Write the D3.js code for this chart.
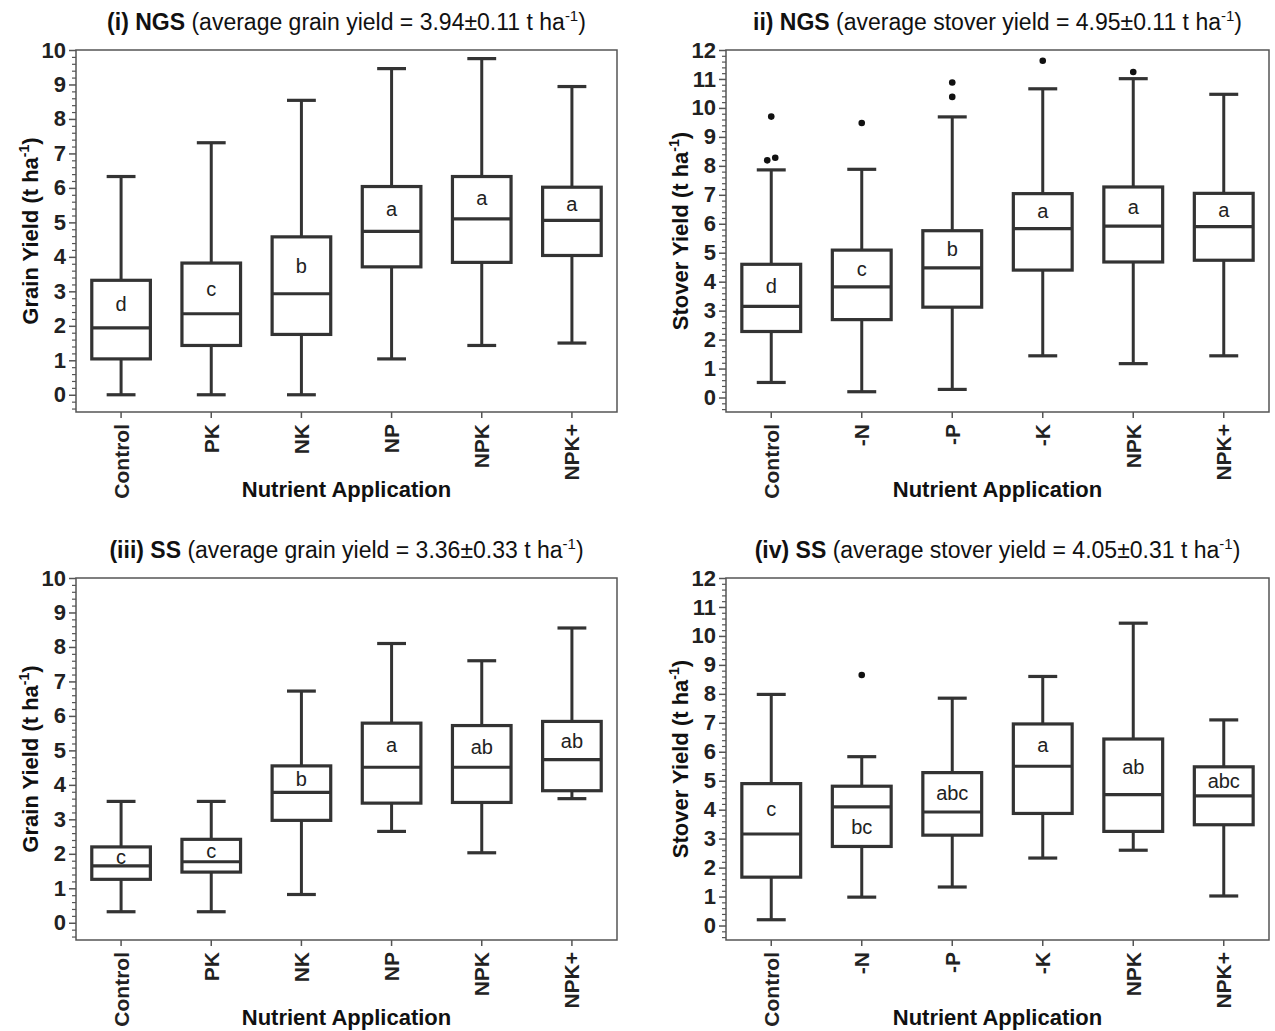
<!DOCTYPE html>
<html>
<head>
<meta charset="utf-8">
<script src="https://cdn.jsdelivr.net/npm/d3@7"></script>
<style>
  html, body { margin: 0; padding: 0; background: #fff; }
  svg { display: block; font-family: "Liberation Sans", Arial, sans-serif; }
</style>
</head>
<body>
<svg id="fig" width="1275" height="1031"></svg>
<script>
// Treatments
const grainCategories = ["Control", "PK", "NK", "NP", "NPK", "NPK+"];
const stoverCategories = ["Control", "-N", "-P", "-K", "NPK", "NPK+"];

// (i) NGS grain yield (t/ha): whisker ends, quartiles, medians, letters
const ngsGrainLower  = [0.00, 0.00, 0.00, 1.04, 1.43, 1.50];
const ngsGrainQ1     = [1.04, 1.43, 1.75, 3.71, 3.84, 4.04];
const ngsGrainMedian = [1.94, 2.35, 2.93, 4.74, 5.10, 5.06];
const ngsGrainQ3     = [3.32, 3.82, 4.58, 6.04, 6.33, 6.02];
const ngsGrainUpper  = [6.33, 7.31, 8.54, 9.46, 9.75, 8.94];
const ngsGrainLetters = ["d", "c", "b", "a", "a", "a"];
const ngsGrainOutliers = [];

// (ii) NGS stover yield (t/ha)
const ngsStoverLower  = [0.52, 0.20, 0.28, 1.44, 1.17, 1.44];
const ngsStoverQ1     = [2.28, 2.69, 3.12, 4.40, 4.68, 4.74];
const ngsStoverMedian = [3.15, 3.82, 4.48, 5.83, 5.92, 5.90];
const ngsStoverQ3     = [4.60, 5.09, 5.76, 7.04, 7.27, 7.05];
const ngsStoverUpper  = [7.86, 7.88, 9.69, 10.66, 11.01, 10.47];
const ngsStoverLetters = ["d", "c", "b", "a", "a", "a"];
const ngsStoverOutliers = [
  ["Control", 9.70], ["Control", 8.19], ["Control", 8.28],
  ["-N", 9.48],
  ["-P", 10.88], ["-P", 10.38],
  ["-K", 11.63],
  ["NPK", 11.24]
];

// (iii) SS grain yield (t/ha)
const ssGrainLower  = [0.32, 0.32, 0.82, 2.65, 2.03, 3.60];
const ssGrainQ1     = [1.26, 1.47, 2.97, 3.47, 3.49, 3.83];
const ssGrainMedian = [1.65, 1.77, 3.78, 4.51, 4.51, 4.73];
const ssGrainQ3     = [2.20, 2.42, 4.55, 5.79, 5.72, 5.84];
const ssGrainUpper  = [3.52, 3.52, 6.72, 8.10, 7.60, 8.55];
const ssGrainLetters = ["c", "c", "b", "a", "ab", "ab"];
const ssGrainOutliers = [];

// (iv) SS stover yield (t/ha)
const ssStoverLower  = [0.20, 0.98, 1.33, 2.33, 2.60, 1.02];
const ssStoverQ1     = [1.67, 2.73, 3.12, 3.87, 3.25, 3.48];
const ssStoverMedian = [3.16, 4.10, 3.92, 5.50, 4.52, 4.48];
const ssStoverQ3     = [4.90, 4.81, 5.28, 6.96, 6.44, 5.48];
const ssStoverUpper  = [7.98, 5.83, 7.85, 8.60, 10.44, 7.10];
const ssStoverLetters = ["c", "bc", "abc", "a", "ab", "abc"];
const ssStoverOutliers = [["-N", 8.65]];
// letters written in the lower half of the box instead of the upper half
const ssStoverLettersBelow = ["-N"];

// y-axis tick values
const grainTicks = d3.range(0, 11);
const stoverTicks = d3.range(0, 13);

function stats(cats, lo, q1, med, q3, hi, letters) {
  return cats.map((c, i) => ({ cat: c, lo: lo[i], q1: q1[i], med: med[i], q3: q3[i], hi: hi[i], letter: letters[i] }));
}

const panels = [
  {
    boldTitle: "(i) NGS", restTitle: " (average grain yield = 3.94\u00b10.11 t ha",
    yLabel: "Grain Yield (t ha", cats: grainCategories, ticks: grainTicks,
    data: stats(grainCategories, ngsGrainLower, ngsGrainQ1, ngsGrainMedian, ngsGrainQ3, ngsGrainUpper, ngsGrainLetters),
    outliers: ngsGrainOutliers, below: [],
    left: 76, right: 617, top: 50, bottom: 412
  },
  {
    boldTitle: "ii) NGS", restTitle: " (average stover yield = 4.95\u00b10.11 t ha",
    yLabel: "Stover Yield (t ha", cats: stoverCategories, ticks: stoverTicks,
    data: stats(stoverCategories, ngsStoverLower, ngsStoverQ1, ngsStoverMedian, ngsStoverQ3, ngsStoverUpper, ngsStoverLetters),
    outliers: ngsStoverOutliers, below: [],
    left: 726, right: 1269, top: 50, bottom: 412
  },
  {
    boldTitle: "(iii) SS", restTitle: " (average grain yield = 3.36\u00b10.33 t ha",
    yLabel: "Grain Yield (t ha", cats: grainCategories, ticks: grainTicks,
    data: stats(grainCategories, ssGrainLower, ssGrainQ1, ssGrainMedian, ssGrainQ3, ssGrainUpper, ssGrainLetters),
    outliers: ssGrainOutliers, below: [],
    left: 76, right: 617, top: 578, bottom: 940
  },
  {
    boldTitle: "(iv) SS", restTitle: " (average stover yield = 4.05\u00b10.31 t ha",
    yLabel: "Stover Yield (t ha", cats: stoverCategories, ticks: stoverTicks,
    data: stats(stoverCategories, ssStoverLower, ssStoverQ1, ssStoverMedian, ssStoverQ3, ssStoverUpper, ssStoverLetters),
    outliers: ssStoverOutliers, below: ssStoverLettersBelow,
    left: 726, right: 1269, top: 578, bottom: 940
  }
];

const svg = d3.select("#fig");
const ink = "#333";
const frameInk = "#555";

panels.forEach(p => {
  const yMax = p.ticks[p.ticks.length - 1];
  const x = d3.scaleBand().domain(p.cats).range([p.left, p.right]).padding(0);
  const y = d3.scaleLinear().domain([-0.5, yMax]).range([p.bottom, p.top]);
  const cx = c => x(c) + x.bandwidth() / 2;
  const boxW = x.bandwidth() * 0.65;
  const capW = x.bandwidth() * 0.32;
  const g = svg.append("g");
  const midX = (p.left + p.right) / 2;

  // minor y ticks every 0.2
  const minor = d3.range(-2, yMax * 5 + 1).map(v => v / 5).filter(v => Math.abs(v - Math.round(v)) > 1e-6);
  g.append("g")
    .attr("transform", `translate(${p.left},0)`)
    .call(d3.axisLeft(y).tickValues(minor).tickSize(4).tickFormat(""))
    .call(a => a.select(".domain").remove())
    .call(a => a.selectAll("line").attr("stroke", frameInk).attr("stroke-width", 1.2));

  // major y ticks
  g.append("g")
    .attr("transform", `translate(${p.left},0)`)
    .call(d3.axisLeft(y).tickValues(p.ticks).tickSize(7).tickPadding(3).tickFormat(d3.format("d")))
    .call(a => a.select(".domain").remove())
    .call(a => a.selectAll("line").attr("stroke", frameInk).attr("stroke-width", 1.5))
    .call(a => a.selectAll("text")
      .attr("fill", "#222").attr("font-size", 22).attr("font-weight", "bold")
      .attr("font-family", "Liberation Sans, Arial, sans-serif"));

  // category axis
  g.append("g")
    .attr("transform", `translate(0,${p.bottom})`)
    .call(d3.axisBottom(x).tickSize(6).tickSizeOuter(0))
    .call(a => a.select(".domain").remove())
    .call(a => a.selectAll("line").attr("stroke", frameInk).attr("stroke-width", 1.5))
    .call(a => a.selectAll("text")
      .attr("fill", "#222").attr("font-size", 21).attr("font-weight", "bold")
      .attr("font-family", "Liberation Sans, Arial, sans-serif")
      .attr("transform", "rotate(-90)")
      .attr("text-anchor", "end")
      .attr("x", -12).attr("y", 0).attr("dy", "0.36em"));

  // plot frame
  g.append("rect")
    .attr("x", p.left).attr("y", p.top)
    .attr("width", p.right - p.left).attr("height", p.bottom - p.top)
    .attr("fill", "none").attr("stroke", frameInk).attr("stroke-width", 1.5);

  const boxes = g.selectAll("g.box").data(p.data).join("g").attr("class", "box");

  // whiskers
  boxes.append("line")
    .attr("x1", d => cx(d.cat)).attr("x2", d => cx(d.cat))
    .attr("y1", d => y(d.hi)).attr("y2", d => y(d.q3))
    .attr("stroke", ink).attr("stroke-width", 3);
  boxes.append("line")
    .attr("x1", d => cx(d.cat)).attr("x2", d => cx(d.cat))
    .attr("y1", d => y(d.q1)).attr("y2", d => y(d.lo))
    .attr("stroke", ink).attr("stroke-width", 3);
  ["hi", "lo"].forEach(k => {
    boxes.append("line")
      .attr("x1", d => cx(d.cat) - capW / 2).attr("x2", d => cx(d.cat) + capW / 2)
      .attr("y1", d => y(d[k])).attr("y2", d => y(d[k]))
      .attr("stroke", ink).attr("stroke-width", 3.2);
  });

  // interquartile box and median
  boxes.append("rect")
    .attr("x", d => cx(d.cat) - boxW / 2).attr("width", boxW)
    .attr("y", d => y(d.q3)).attr("height", d => y(d.q1) - y(d.q3))
    .attr("fill", "#fff").attr("stroke", ink).attr("stroke-width", 3.2);
  boxes.append("line")
    .attr("x1", d => cx(d.cat) - boxW / 2).attr("x2", d => cx(d.cat) + boxW / 2)
    .attr("y1", d => y(d.med)).attr("y2", d => y(d.med))
    .attr("stroke", ink).attr("stroke-width", 3.2);

  // significance letters
  boxes.append("text")
    .attr("x", d => cx(d.cat))
    .attr("y", d => p.below.includes(d.cat) ? y((d.med + d.q1) / 2) : y((d.med + d.q3) / 2))
    .attr("dy", "0.36em")
    .attr("text-anchor", "middle")
    .attr("font-size", 20).attr("fill", "#222")
    .text(d => d.letter);

  // outliers; near-identical values are nudged apart sideways
  const pts = p.outliers.map(([c, v]) => ({ c, v, dx: 0 }));
  pts.forEach((a, i) => {
    pts.forEach((b, j) => {
      if (j > i && a.c === b.c && Math.abs(a.v - b.v) < 0.2) { a.dx = -4; b.dx = 4; }
    });
  });
  g.selectAll("circle.out").data(pts).join("circle")
    .attr("class", "out")
    .attr("cx", d => cx(d.c) + d.dx).attr("cy", d => y(d.v))
    .attr("r", 3.3).attr("fill", "#111");

  // panel title
  const t = g.append("text")
    .attr("x", midX).attr("y", p.top - 20)
    .attr("text-anchor", "middle").attr("font-size", 23).attr("fill", "#111");
  t.append("tspan").attr("font-weight", "bold").text(p.boldTitle);
  t.append("tspan").text(p.restTitle);
  t.append("tspan").attr("font-size", 15).attr("dy", -9).text("-1");
  t.append("tspan").attr("dy", 9).text(")");

  // y-axis title
  const yl = g.append("text")
    .attr("transform", `translate(${p.left - 46},${(p.top + p.bottom) / 2}) rotate(-90)`)
    .attr("dy", "0.36em")
    .attr("text-anchor", "middle").attr("font-size", 22).attr("font-weight", "bold").attr("fill", "#111");
  yl.append("tspan").attr("dy", "0.36em").text(p.yLabel);
  yl.append("tspan").attr("font-size", 14).attr("dy", -9).text("-1");
  yl.append("tspan").attr("dy", 9).text(")");

  // x-axis title
  g.append("text")
    .attr("x", midX).attr("y", p.bottom + 85)
    .attr("text-anchor", "middle").attr("font-size", 22).attr("font-weight", "bold").attr("fill", "#111")
    .text("Nutrient Application");
});
</script>
</body>
</html>
